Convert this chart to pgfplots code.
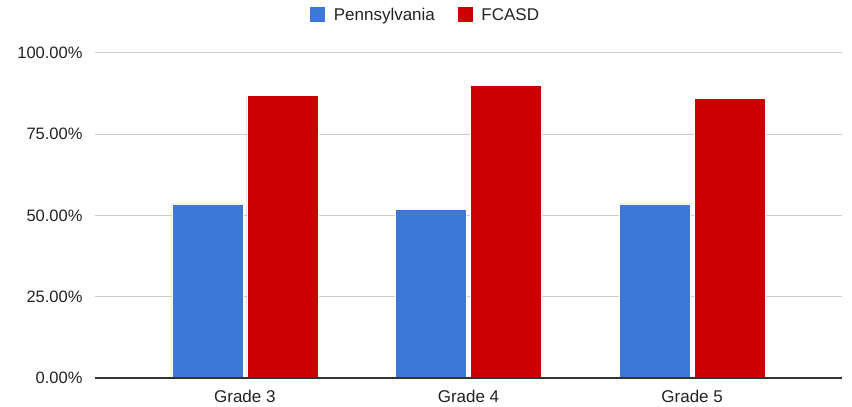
\documentclass[border=0pt]{standalone}
\usepackage{pgfplots}
\pgfplotsset{compat=1.18}
\usepackage{fontspec}
\setmainfont{Liberation Sans}
\definecolor{pablue}{HTML}{3C78D8}
\definecolor{fcred}{HTML}{CC0000}
\definecolor{gridgray}{HTML}{CCCCCC}
\definecolor{axisdark}{HTML}{333333}
\definecolor{txt}{HTML}{222222}
\pgfplotsset{
  sqlegend/.style={legend image code/.code={\fill[##1] (0pt,-7pt) rectangle (16pt,9pt);}}
}
\begin{document}
\begin{tikzpicture}
\useasboundingbox (-95pt,-29pt) rectangle (757pt,378pt);
\begin{axis}[
  scale only axis,
  width=747pt, height=325pt,
  xmin=-0.67, xmax=2.67,
  ymin=0, ymax=100,
  ybar, bar width=71pt,
  xtick={0,1,2},
  xticklabels={Grade 3,Grade 4,Grade 5},
  ytick={0,25,50,75,100},
  yticklabels={0.00\%,25.00\%,50.00\%,75.00\%,100.00\%},
  tick style={draw=none},
  ymajorgrids,
  grid style={gridgray, line width=1pt},
  axis x line*=bottom,
  axis y line*=left,
  axis line style={draw=none},
  ticklabel style={font=\fontsize{17}{20}\selectfont, text=txt},
  xticklabel style={yshift=-4pt},
  yticklabel style={xshift=-9pt, font=\fontsize{16.5}{20}\selectfont},
  sqlegend,
  legend style={at={(0.442,1)}, anchor=center, yshift=38pt, draw=none,
    font=\fontsize{17}{20}\selectfont, text=txt, column sep=6pt,
    /tikz/every even column/.append style={column sep=20pt}},
  legend columns=2,
  clip=false,
]
\addplot[fill=pablue, draw=white, line width=0.5pt, bar shift=-37.5pt] coordinates {(0,53.6) (1,51.8) (2,53.6)};
\addplot[fill=fcred, draw=white, line width=0.5pt, bar shift=37.5pt] coordinates {(0,87.0) (1,90.1) (2,86.0)};
\legend{Pennsylvania,FCASD}
\draw[axisdark, line width=1.2pt] (rel axis cs:0,0) -- (rel axis cs:1,0);
\end{axis}
\end{tikzpicture}
\end{document}
